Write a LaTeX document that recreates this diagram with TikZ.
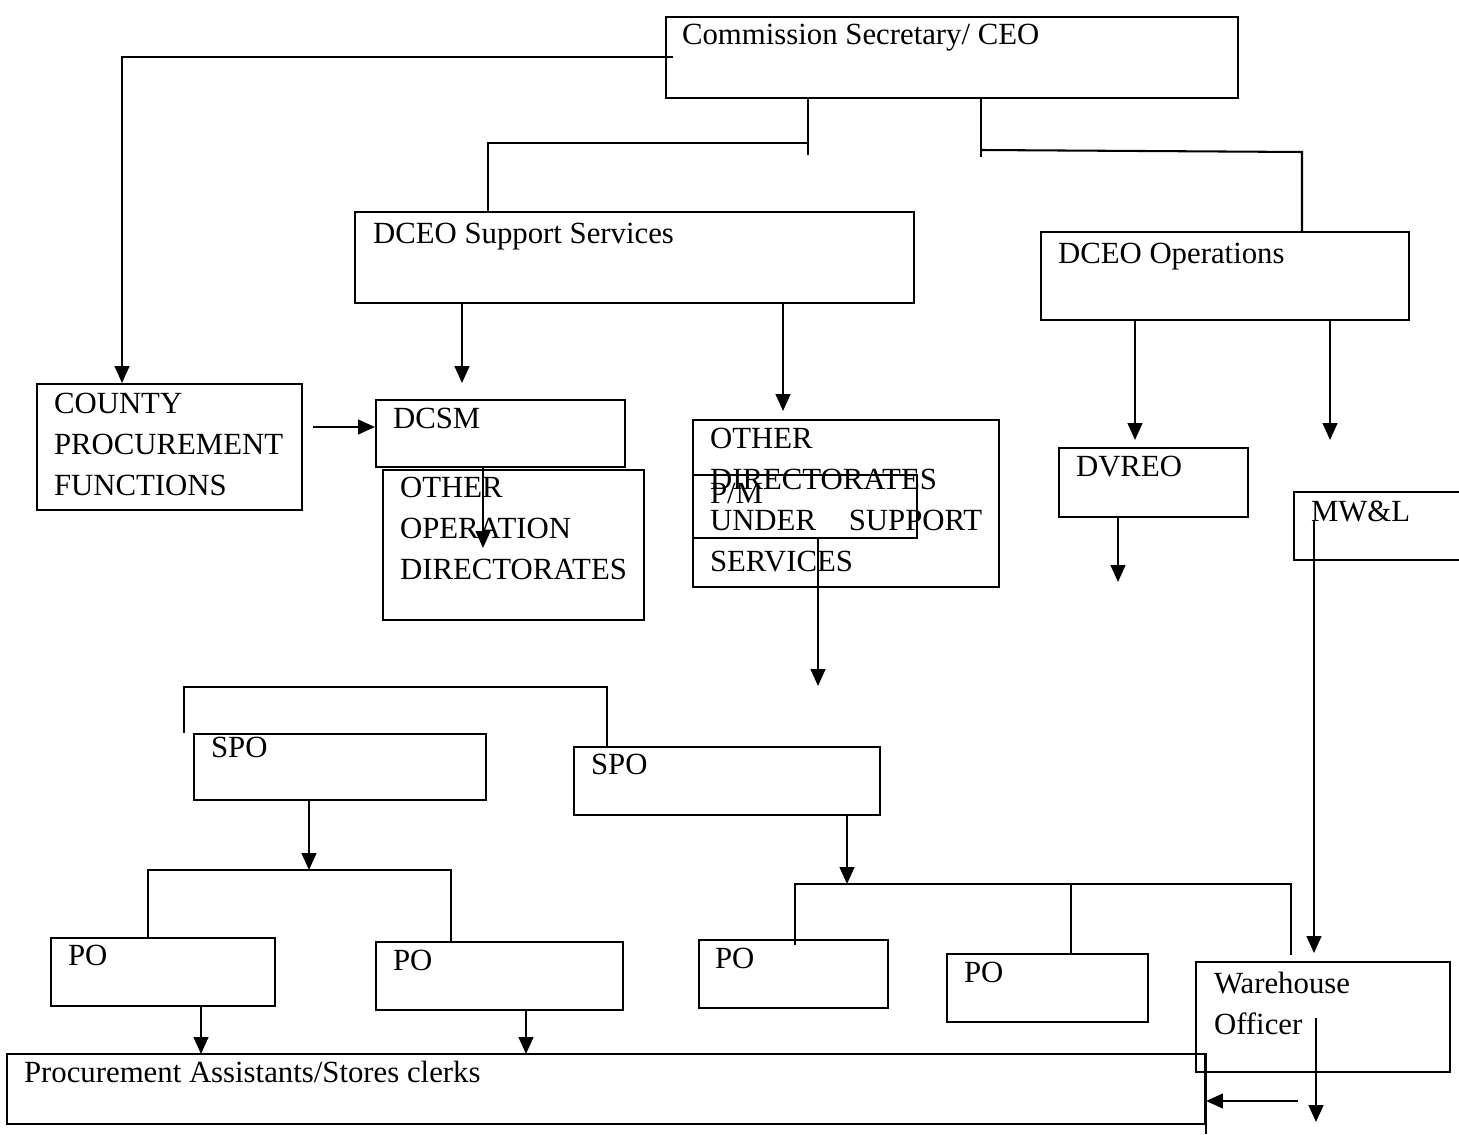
\documentclass[tikz,border=0pt]{standalone}
\usepackage{fontspec}
\setmainfont{Liberation Serif}
\usetikzlibrary{arrows.meta,fit}
\tikzset{
  box/.style={draw, inner sep=0pt},
  txt/.style={anchor=north west, inner sep=0pt, align=left, font=\fontsize{12}{16}\selectfont},
  arr/.style={-{Triangle[length=2.3mm,width=2mm]}}
}
\begin{document}
\begin{tikzpicture}
[x=0.0137cm, y=-0.0137cm, line width=0.8pt]
\clip (0,0) rectangle (1459,1134);
%% boxes
\node[box, fit={(666,17) (1238,98)}]   (ceo)   {}; %% CEO
\node[box, fit={(355,212) (914,303)}]  (sup)   {}; %% Support
\node[box, fit={(1041,232) (1409,320)}] (ops)  {}; %% Operations
\node[box, fit={(37,384) (302,510)}]   (cpf)   {}; %% County
\node[box, fit={(376,400) (625,467)}]  (dcsm)  {}; %% DCSM
\node[box, fit={(383,470) (644,620)}]  (ood)   {}; %% Other op.
\node[box, fit={(693,420) (999,587)}]  (odss)  {}; %% Other dir.
\node[box, fit={(693,475) (917,538)}]  (pm)    {}; %% P/M
\node[box, fit={(1059,448) (1248,517)}] (dvreo) {}; %% DVREO
\node[box, fit={(1294,492) (1480,560)}] (mwl)  {}; %% MW&L
\node[box, fit={(194,734) (486,800)}]  (spoa)  {}; %% SPO left
\node[box, fit={(574,747) (880,815)}]  (spob)  {}; %% SPO right
\node[box, fit={(51,938) (275,1006)}]  (poa)   {}; %% PO 1
\node[box, fit={(376,942) (623,1010)}] (pob)   {}; %% PO 2
\node[box, fit={(699,940) (888,1008)}] (poc)   {}; %% PO 3
\node[box, fit={(947,954) (1148,1022)}] (pod)  {}; %% PO 4
\node[box, fit={(1196,962) (1450,1072)}] (wo)  {}; %% Warehouse
\node[box, fit={(7,1054) (1205,1124)}] (pas)   {}; %% Assistants
%% texts
\node[txt] (tceo)   at (681,23)   {Commission Secretary/ CEO};
\node[txt] (tsup)   at (372,222)  {DCEO Support Services};
\node[txt] (tops)   at (1057,242) {DCEO Operations};
\node[txt] (tcpf)   at (53,392)   {COUNTY\\PROCUREMENT\\FUNCTIONS};
\node[txt] (tdcsm)  at (392,407)  {DCSM};
\node[txt] (tood)   at (399,476)  {OTHER\\OPERATION\\DIRECTORATES};
\node[txt] (todss)  at (709,427)  {OTHER\\DIRECTORATES\\UNDER\hspace{0.45cm}SUPPORT\\SERVICES};
\node[txt] (tpm)    at (709,482)  {P/M};
\node[txt] (tdvreo) at (1075,455) {DVREO};
\node[txt] (tmwl)   at (1310,500) {MW\&L};
\node[txt] (tspoa)  at (210,736)  {SPO};
\node[txt] (tspob)  at (590,753)  {SPO};
\node[txt] (tpoa)   at (67,944)   {PO};
\node[txt] (tpob)   at (392,949)  {PO};
\node[txt] (tpoc)   at (714,947)  {PO};
\node[txt] (tpod)   at (963,961)  {PO};
\node[txt] (two)    at (1213,971) {Warehouse\\Officer};
\node[txt] (tpas)   at (23,1060)  {Procurement Assistants/Stores clerks};
%% top links
\coordinate (k0) at (673,57);
\coordinate (k1) at (122,57);
\draw[arr] (k0) -- (k1) -- (k1 |- cpf.north); %% to county
\coordinate (k2) at (808,143); \coordinate (k2b) at (808,155);
\coordinate (k3) at (488,143);
\draw (ceo.south -| k2) -- (k2b);
\draw (k2) -- (k3) -- (k3 |- sup.north); %% to support
\coordinate (k4) at (981,150); \coordinate (k4b) at (981,157);
\coordinate (k5) at (1302,152);
\draw (ceo.south -| k4) -- (k4b);
\draw (k4) -- (k5) -- (k5 |- ops.north); %% to operations
%% second level
\coordinate (k6) at (462,383); \coordinate (k7) at (783,411);
\draw[arr] (sup.south -| k6) -- (k6);
\draw[arr] (sup.south -| k7) -- (k7);
\coordinate (k8) at (313,427);
\draw[arr] (k8) -- (dcsm.west |- k8); %% county to DCSM
\coordinate (k9) at (483,548);
\draw[arr] (dcsm.south -| k9) -- (k9);
\coordinate (k10) at (818,686);
\draw[arr] (pm.south -| k10) -- (k10);
\coordinate (k11) at (1135,440); \coordinate (k12) at (1330,440);
\draw[arr] (ops.south -| k11) -- (k11);
\draw[arr] (ops.south -| k12) -- (k12);
\coordinate (k13) at (1118,582);
\draw[arr] (dvreo.south -| k13) -- (k13);
\coordinate (k14) at (1314,520); \coordinate (k15) at (1314,953);
\draw[arr] (k14) -- (k15); %% MW&L to warehouse
%% SPO level
\coordinate (k16) at (184,687); \coordinate (k17) at (607,687);
\draw (k16 |- spoa.north) -- (k16) -- (k17) -- (k17 |- spob.north);
\coordinate (k18) at (309,870);
\draw[arr] (spoa.south -| k18) -- (k18);
\coordinate (k19) at (148,870); \coordinate (k20) at (451,870);
\draw (k19 |- poa.north) -- (k19) -- (k20) -- (k20 |- pob.north);
\coordinate (k21) at (847,884);
\draw[arr] (spob.south -| k21) -- (k21);
\coordinate (k22) at (795,884); \coordinate (k22b) at (795,945);
\coordinate (k23) at (1071,884); \coordinate (k24) at (1291,884);
\coordinate (k25) at (1291,955);
\draw (k22b) -- (k22) -- (k24) -- (k25);
\draw (k23) -- (k23 |- pod.north);
%% bottom
\coordinate (k26) at (201,1054); \coordinate (k27) at (526,1054);
\draw[arr] (poa.south -| k26) -- (k26);
\draw[arr] (pob.south -| k27) -- (k27);
\coordinate (k28) at (1316,1018); \coordinate (k29) at (1316,1122);
\draw[arr] (k28) -- (k29);
\coordinate (k30) at (1298,1101);
\draw[arr] (k30) -- (pas.east |- k30);
\draw (pas.north east) -- (pas.north east |- 0,1134);
\end{tikzpicture}
\end{document}
